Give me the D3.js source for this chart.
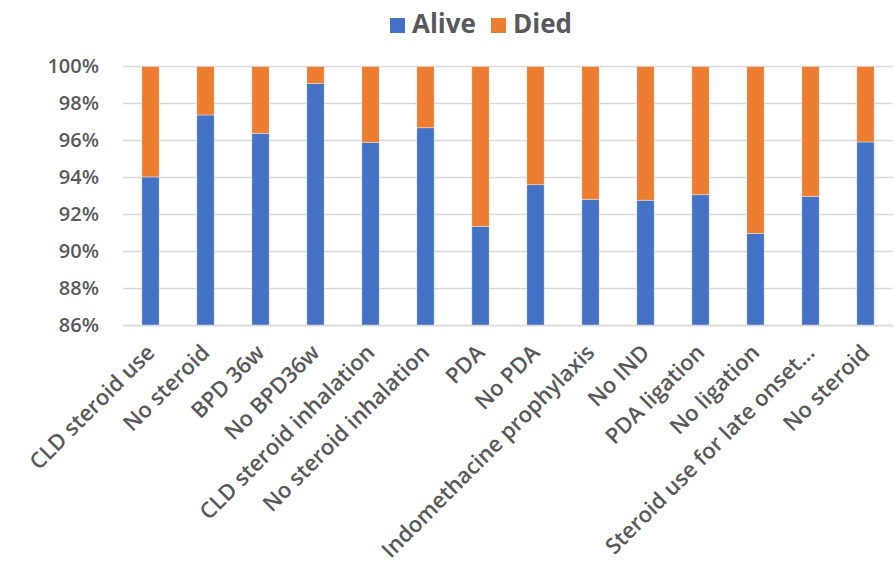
<!DOCTYPE html>
<html>
<head>
<meta charset="utf-8">
<script src="https://cdn.jsdelivr.net/npm/d3@7"></script>
<style>
  html, body { margin: 0; padding: 0; background: #fff; }
  svg { display: block; font-family: "Open Sans", "Noto Sans", sans-serif; }
</style>
</head>
<body>
<svg id="chart" width="894" height="565"></svg>
<script>
// Survival share per group (percent alive); the rest died.
const categories = [
  "CLD steroid use", "No steroid", "BPD 36w", "No BPD36w",
  "CLD steroid inhalation", "No steroid inhalation", "PDA", "No PDA",
  "Indomethacine prophylaxis", "No IND", "PDA ligation", "No ligation",
  "Steroid use for late onset\u2026", "No steroid"
];
const alive = [94.03, 97.38, 96.39, 99.09, 95.90, 96.69, 91.36, 93.61, 92.82, 92.77, 93.07, 90.98, 92.98, 95.92];
const died = alive.map(a => 100 - a);
const seriesNames = ["Alive", "Died"];
const seriesColors = ["#4472C4", "#ED7D31"];
const yTicks = [86, 88, 90, 92, 94, 96, 98, 100];

const svg = d3.select("#chart");
const margin = { left: 123, right: 1, top: 66.5, bottom: 239.5 };
const W = 894, H = 565;

const x = d3.scaleBand()
  .domain(d3.range(categories.length))
  .range([margin.left, W - margin.right])
  .paddingInner(0.685)
  .paddingOuter(0.3425);

const y = d3.scaleLinear()
  .domain([86, 100])
  .range([H - margin.bottom, margin.top]);

// Gridlines
svg.append("g")
  .selectAll("line")
  .data(yTicks)
  .join("line")
  .attr("x1", margin.left)
  .attr("x2", W - margin.right)
  .attr("y1", d => y(d))
  .attr("y2", d => y(d))
  .attr("stroke", "#d9d9d9")
  .attr("stroke-width", 1.5);

// Y axis labels
const yAxis = d3.axisLeft(y).tickValues(yTicks).tickFormat(d => d + "%").tickSize(0).tickPadding(0);
const yg = svg.append("g").attr("transform", `translate(${margin.left - 24},0)`).call(yAxis);
yg.select(".domain").remove();
yg.selectAll("text")
  .attr("fill", "#595959")
  .attr("font-size", 20)
  .attr("font-weight", 600)
  .attr("font-family", "'Open Sans', sans-serif");

// Stacked bars
const rows = categories.map((c, i) => ({ i, alive: alive[i], died: died[i] }));
const stacked = d3.stack().keys(["alive", "died"])(rows);

svg.append("defs").append("clipPath").attr("id", "plot")
  .append("rect")
  .attr("x", margin.left).attr("y", margin.top)
  .attr("width", W - margin.left - margin.right)
  .attr("height", H - margin.bottom - margin.top);

const barG = svg.append("g").attr("clip-path", "url(#plot)");
stacked.forEach((layer, k) => {
  barG.append("g")
    .selectAll("rect")
    .data(layer)
    .join("rect")
    .attr("x", d => x(d.data.i))
    .attr("width", x.bandwidth())
    .attr("y", d => y(d[1]))
    .attr("height", d => y(Math.max(d[0], 86)) - y(d[1]))
    .attr("fill", seriesColors[k])
    .attr("stroke", "#ffffff")
    .attr("stroke-opacity", 0.45)
    .attr("stroke-width", 0.8);
});

// Bottom axis line
svg.append("line")
  .attr("x1", margin.left).attr("x2", W - margin.right)
  .attr("y1", y(86)).attr("y2", y(86))
  .attr("stroke", "#d9d9d9").attr("stroke-width", 1.5);

// Category labels, rotated
svg.append("g")
  .selectAll("text")
  .data(categories)
  .join("text")
  .attr("transform", (d, i) => `translate(${x(i) + x.bandwidth() / 2},${y(86) + 23}) rotate(-45)`)
  .attr("text-anchor", "end")
  .attr("dy", "0.35em")
  .attr("fill", "#595959")
  .attr("font-size", 22)
  .attr("font-weight", 600)
  .text(d => d);

// Legend
const legend = svg.append("g").attr("transform", "translate(390,0)");
const legendItems = [{ name: seriesNames[0], color: seriesColors[0], x: 0 }, { name: seriesNames[1], color: seriesColors[1], x: 101 }];
legendItems.forEach(it => {
  legend.append("rect")
    .attr("x", it.x).attr("y", 18).attr("width", 15).attr("height", 15)
    .attr("fill", it.color);
  legend.append("text")
    .attr("x", it.x + 22).attr("y", 33)
    .attr("fill", "#595959")
    .attr("font-size", 26)
    .attr("font-weight", 700)
    .text(it.name);
});
</script>
</body>
</html>
